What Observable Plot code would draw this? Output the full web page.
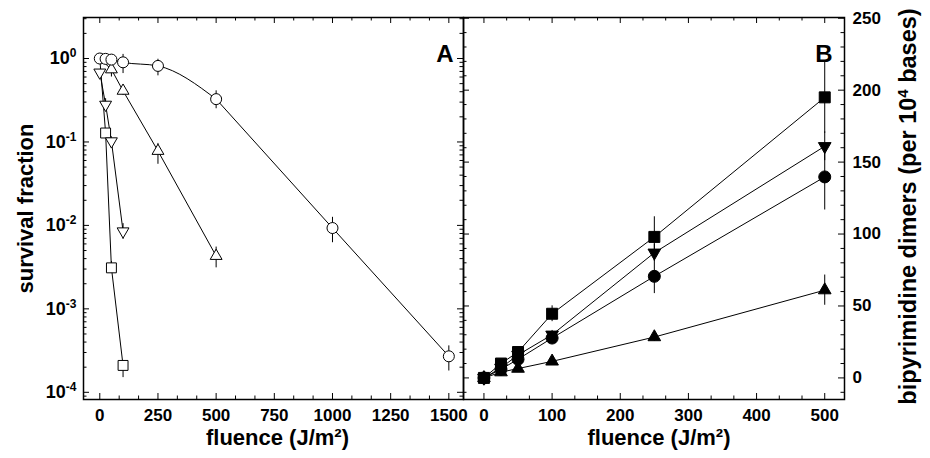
<!DOCTYPE html>
<html><head><meta charset="utf-8">
<script src="https://cdn.jsdelivr.net/npm/d3@7"></script>
<script src="https://cdn.jsdelivr.net/npm/@observablehq/plot@0.6"></script>
<style>
body{margin:0;background:#fff;}
#wrap{position:relative;width:930px;height:458px;overflow:hidden;background:#fff;}
#wrap svg{position:absolute;top:0;}
</style></head><body><div id="wrap"></div>
<script>
// ---------- Panel A: survival fraction (log) ----------
const circA_x  = [0, 25, 50, 100, 250, 500, 1000, 1500];
const circA_y  = [1.0, 0.99, 0.97, 0.90, 0.815, 0.326, 0.0093, 0.00027];
const circA_lo = [0.9, 0.88, 0.87, 0.66, 0.62, 0.25, 0.0062, 0.00018];
const circA_hi = [1.1, 1.12, 1.1, 1.12, 0.98, 0.41, 0.0125, 0.00036];

const upA_x  = [0, 50, 100, 250, 500];
const upA_y  = [1.0, 0.74, 0.41, 0.078, 0.0043];
const upA_lo = [1.0, 0.6, 0.36, 0.054, 0.0031];
const upA_hi = [1.0, 0.9, 0.46, 0.096, 0.0055];

const dnA_x  = [0, 25, 50, 100];
const dnA_y  = [0.68, 0.28, 0.102, 0.0085];
const dnA_lo = [0.62, 0.24, 0.09, 0.0068];
const dnA_hi = [0.74, 0.33, 0.115, 0.0105];

const sqA_x  = [0, 25, 50, 100];
const sqA_y  = [1.0, 0.128, 0.0031, 0.00021];
const sqA_lo = [1.0, 0.115, 0.0027, 0.00015];
const sqA_hi = [1.0, 0.14, 0.0037, 0.00024];

const xTicksA = [0, 250, 500, 750, 1000, 1250, 1500];
const yTicksA = [1, 0.1, 0.01, 0.001, 0.0001];

// ---------- Panel B: bipyrimidine dimers ----------
const xB = [0, 25, 50, 100, 250, 500];
const sqB    = [0, 10, 18, 44.6, 98, 195];
const sqB_e  = [1.5, 2, 2.5, 5.5, 14, 25];
const dnB    = [0, 7, 16, 30, 87, 161];
const dnB_e  = [1, 1.5, 2, 3, 6, 10];
const circB   = [0, 6, 13, 27.7, 70.6, 139.7];
const circB_e = [1, 1.5, 2, 3, 12, 23];
const upB    = [0, 4, 6.5, 11.5, 28.4, 61];
const upB_e  = [1, 1, 1.5, 2, 3, 10.5];

const xTicksB = [0, 100, 200, 300, 400, 500];
const yTicksB = [0, 50, 100, 150, 200, 250];

// ---------- helpers ----------
const rowsA = (xs, ys, lo, hi) => xs.map((x, i) => ({x, y: ys[i], lo: lo[i], hi: hi[i]}));
const rowsB = (ys, e) => xB.map((x, i) => ({x, y: ys[i], lo: ys[i] - e[i], hi: ys[i] + e[i]}));

const downTriangle = {
  draw(context, size) {
    const y = -Math.sqrt(size / (Math.sqrt(3) * 3));
    context.moveTo(0, -2 * y);
    context.lineTo(-Math.sqrt(3) * y, y);
    context.lineTo(Math.sqrt(3) * y, y);
    context.closePath();
  }
};

const FONT = "'Liberation Sans', Arial, Helvetica, sans-serif";
const TOP = 17, BOTTOM = 399;
const PH = BOTTOM - TOP;

function frameTicks(xMaj, xMin, yMaj, yMin, pw) {
  const L = 6, S = 3.5, sw = 1;
  return [
    Plot.tickX(xMaj, {x: d => d, insetTop: PH - L, strokeWidth: sw}),
    Plot.tickX(xMaj, {x: d => d, insetBottom: PH - L, strokeWidth: sw}),
    Plot.tickX(xMin, {x: d => d, insetTop: PH - S, strokeWidth: sw}),
    Plot.tickX(xMin, {x: d => d, insetBottom: PH - S, strokeWidth: sw}),
    Plot.tickY(yMaj, {y: d => d, insetRight: pw - L, strokeWidth: sw}),
    Plot.tickY(yMaj, {y: d => d, insetLeft: pw - L, strokeWidth: sw}),
    Plot.tickY(yMin, {y: d => d, insetRight: pw - S, strokeWidth: sw}),
    Plot.tickY(yMin, {y: d => d, insetLeft: pw - S, strokeWidth: sw})
  ];
}

// minor ticks
const xDomA = [-70, 1563], yDomA = [8.2e-5, 3.1];
const xMinA = d3.range(1, 19).map(k => k * 250 / 3).filter(v => v % 250 > 1 && v % 250 < 249 && v < xDomA[1]);
const yMinA = [];
for (let e = -5; e <= 0; e++) for (let k = 2; k <= 9; k++) { const v = k * Math.pow(10, e); if (v > yDomA[0] && v < yDomA[1]) yMinA.push(v); }

const xDomB = [-30, 529], yDomB = [-15, 250.5];
const xMinB = d3.range(1, 16).map(k => k * 100 / 3).filter(v => Math.abs(v / 100 - Math.round(v / 100)) > 0.01 && v < xDomB[1]);
const yMinB = d3.range(-10, 250, 10).filter(v => v % 50 !== 0);

// ---------- Plot A ----------
const cA = rowsA(circA_x, circA_y, circA_lo, circA_hi);
const uA = rowsA(upA_x, upA_y, upA_lo, upA_hi);
const dA = rowsA(dnA_x, dnA_y, dnA_lo, dnA_hi);
const sA = rowsA(sqA_x, sqA_y, sqA_lo, sqA_hi);
const line = (data, curve = "linear") => Plot.line(data, {x: "x", y: "y", stroke: "black", strokeWidth: 1, curve});
const err = (data) => Plot.ruleX(data.filter(d => d.hi > d.lo), {x: "x", y1: "lo", y2: "hi", stroke: "black", strokeWidth: 1});
const fmt = d => String(d);

const plotA = Plot.plot({
  width: 464, height: 458,
  marginLeft: 83, marginRight: 1, marginTop: TOP, marginBottom: 458 - BOTTOM,
  style: {fontFamily: FONT, fontWeight: "bold", fontSize: "17px", background: "transparent", color: "black", overflow: "visible"},
  x: {domain: xDomA, axis: null},
  y: {type: "log", domain: yDomA, axis: null},
  marks: [
    ...frameTicks(xTicksA, xMinA, yTicksA, yMinA, 380),
    Plot.frame({stroke: "black", strokeWidth: 1.5}),
    line(cA.filter(d => d.x <= 500), "monotone-x"), line(cA.filter(d => d.x >= 500)),
    line(uA), line(dA), line(sA),
    err(cA), err(uA), err(dA), err(sA),
    Plot.dot(sA.filter(d => d.x > 0), {x: "x", y: "y", symbol: "square", r: 5.6, fill: "white", stroke: "black", strokeWidth: 1}),
    Plot.dot(dA, {x: "x", y: "y", symbol: downTriangle, r: 4.4, fill: "white", stroke: "black", strokeWidth: 1}),
    Plot.dot(uA.filter(d => d.x > 0), {x: "x", y: "y", symbol: "triangle", r: 4.4, fill: "white", stroke: "black", strokeWidth: 1}),
    Plot.dot(cA, {x: "x", y: "y", symbol: "circle", r: 5.5, fill: "white", stroke: "black", strokeWidth: 1}),
    Plot.axisX(xTicksA, {anchor: "bottom", tickSize: 0, tickPadding: 9, label: null, fontSize: 17, fontWeight: "bold", tickFormat: fmt}),
    Plot.axisY(yTicksA, {anchor: "left", tickSize: 0, tickPadding: 7, label: null, fontSize: 18, fontWeight: "bold",
      tickFormat: d => "E" + String(Math.round(Math.log10(d)))}),
    Plot.text(["fluence (J/m²)"], {text: d => d, frameAnchor: "bottom", textAnchor: "middle", dx: 4, dy: 45, fontSize: 22, fontWeight: "bold"}),
    Plot.text(["survival fraction"], {text: d => d, frameAnchor: "left", textAnchor: "middle", rotate: -90, dx: -58, fontSize: 22, fontWeight: "bold"}),
    Plot.text(["A"], {text: d => d, frameAnchor: "top-right", textAnchor: "end", dx: -10, dy: 27, fontSize: 24, fontWeight: "bold"})
  ]
});

// ---------- Plot B ----------
const sB = rowsB(sqB, sqB_e), dB = rowsB(dnB, dnB_e), cB = rowsB(circB, circB_e), uB = rowsB(upB, upB_e);
const plotB = Plot.plot({
  width: 468, height: 458,
  marginLeft: 1, marginRight: 86, marginTop: TOP, marginBottom: 458 - BOTTOM,
  style: {fontFamily: FONT, fontWeight: "bold", fontSize: "17px", background: "transparent", color: "black", overflow: "visible"},
  x: {domain: xDomB, axis: null},
  y: {domain: yDomB, axis: null},
  marks: [
    ...frameTicks(xTicksB, xMinB, yTicksB, yMinB, 381),
    Plot.frame({stroke: "black", strokeWidth: 1.5}),
    line(sB), line(dB), line(cB), line(uB),
    err(sB), err(dB), err(cB), err(uB),
    Plot.dot(uB, {x: "x", y: "y", symbol: "triangle", r: 4.7, fill: "black", stroke: "black", strokeWidth: 1}),
    Plot.dot(cB, {x: "x", y: "y", symbol: "circle", r: 6, fill: "black", stroke: "black", strokeWidth: 1}),
    Plot.dot(dB, {x: "x", y: "y", symbol: downTriangle, r: 4.7, fill: "black", stroke: "black", strokeWidth: 1}),
    Plot.dot(sB, {x: "x", y: "y", symbol: "square", r: 6.2, fill: "black", stroke: "black", strokeWidth: 1}),
    Plot.axisX(xTicksB, {anchor: "bottom", tickSize: 0, tickPadding: 9, label: null, fontSize: 17, fontWeight: "bold", tickFormat: fmt}),
    Plot.axisY(yTicksB, {anchor: "right", tickSize: 0, tickPadding: 8, label: null, fontSize: 17, fontWeight: "bold", tickFormat: fmt}),
    Plot.text(["fluence (J/m²)"], {text: d => d, frameAnchor: "bottom", textAnchor: "middle", dx: 5, dy: 45, fontSize: 22, fontWeight: "bold"}),
    Plot.text(["bipyrimidine dimers (per 10^4 bases)"], {text: d => d, frameAnchor: "right", textAnchor: "middle", rotate: -90, dx: 64, dy: -2, fontSize: 23.5, fontWeight: "bold"}),
    Plot.text(["B"], {text: d => d, frameAnchor: "top-right", textAnchor: "end", dx: -12, dy: 27, fontSize: 24, fontWeight: "bold"})
  ]
});

const wrap = document.getElementById("wrap");
plotA.style.left = "0px";
plotB.style.left = "462px";
wrap.appendChild(plotA);
wrap.appendChild(plotB);

// superscripts as real text
d3.select(plotA).selectAll("text").each(function() {
  const s = this.textContent;
  if (/^E-?\d+$/.test(s)) {
    const t = d3.select(this); t.text(null);
    t.append("tspan").text("10");
    t.append("tspan").attr("dy", -7).attr("font-size", 12).text(s.slice(1));
  }
});
d3.select(plotB).selectAll("text").each(function() {
  const s = this.textContent;
  if (s.includes("^4")) {
    const [a, b] = s.split("^4");
    const t = d3.select(this); t.text(null);
    t.append("tspan").text(a);
    t.append("tspan").attr("dy", -8).attr("font-size", 15).text("4");
    t.append("tspan").attr("dy", 8).text(b);
  }
});
</script></body></html>
